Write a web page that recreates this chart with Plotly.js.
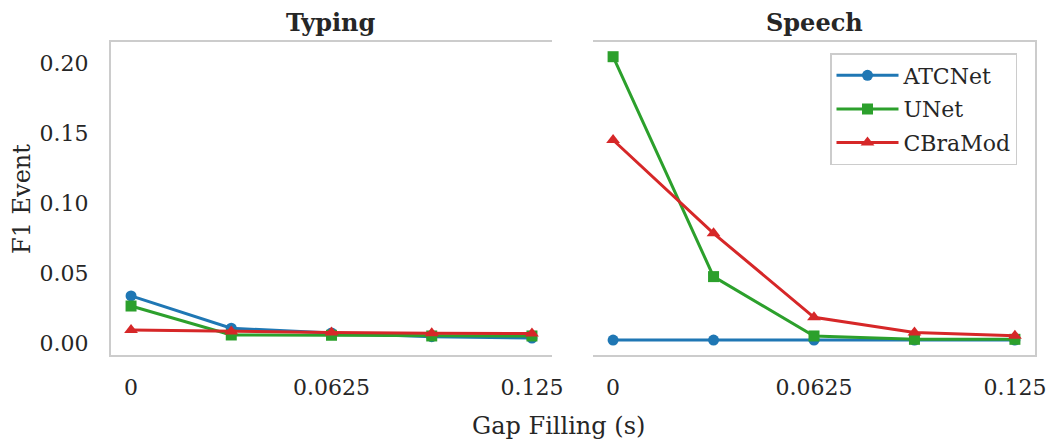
<!DOCTYPE html>
<html>
<head>
<meta charset="utf-8">
<script src="https://cdn.plot.ly/plotly-3.0.1.min.js"></script>
<style>html,body{margin:0;padding:0;background:#fff;}#chart{width:1047px;height:440px;}</style>
</head>
<body>
<div id="chart"></div>
<script>
const gaps = [0, 0.03125, 0.0625, 0.09375, 0.125];
const tickVals = [0, 0.0625, 0.125];
const tickText = ["0", "0.0625", "0.125"];
const yTickVals = [0, 0.05, 0.10, 0.15, 0.20];
const yTickText = ["0.00", "0.05", "0.10", "0.15", "0.20"];
const panels = ["Typing", "Speech"];
const models = ["ATCNet", "UNet", "CBraMod"];
const colors = ["#1f77b4", "#2ca02c", "#d62728"];
const symbols = ["circle", "square", "triangle-up"];

const typingATCNet = [0.0336, 0.0105, 0.0072, 0.0045, 0.0035];
const typingUNet = [0.0264, 0.0057, 0.0055, 0.0050, 0.0050];
const typingCBraMod = [0.0093, 0.0081, 0.0074, 0.0069, 0.0067];

const speechATCNet = [0.0021, 0.0021, 0.0021, 0.0021, 0.0021];
const speechUNet = [0.2045, 0.0474, 0.0050, 0.0026, 0.0026];
const speechCBraMod = [0.1450, 0.0783, 0.0183, 0.0074, 0.0052];

const seriesByPanel = [
  [typingATCNet, typingUNet, typingCBraMod],
  [speechATCNet, speechUNet, speechCBraMod]
];

const font = "DejaVu Serif, serif";
const traces = [];
seriesByPanel.forEach((set, p) => {
  set.forEach((vals, i) => {
    traces.push({
      x: gaps, y: vals, type: "scatter", mode: "lines+markers",
      name: models[i], showlegend: p === 1, legendgroup: models[i],
      xaxis: p === 0 ? "x" : "x2", yaxis: p === 0 ? "y" : "y2",
      line: {color: colors[i], width: 3},
      marker: {color: colors[i], symbol: symbols[i], size: i === 2 ? 12 : 11}
    });
  });
});

const W = 1047, H = 440;
const yDom = [1 - 355 / H, 1 - 42 / H];
const xr = [-0.00625, 0.13125];
const yr = [-0.0086, 0.215];
const axX = {
  range: xr, showgrid: false, zeroline: false, showline: true, mirror: true,
  linecolor: "#cccccc", linewidth: 2, ticks: "outside", ticklen: 12,
  tickcolor: "rgba(0,0,0,0)", tickvals: tickVals, ticktext: tickText,
  tickfont: {family: font, size: 22, color: "#262626"}
};
const ann = (text, x, y, size, angle) => ({
  text: text, xref: "paper", yref: "paper", x: x / W, y: 1 - y / H,
  xanchor: "center", yanchor: "middle", textangle: angle || 0,
  showarrow: false, font: {family: font, size: size, color: "#262626"}
});
const layout = {
  width: W, height: H, margin: {l: 0, r: 0, t: 0, b: 0},
  paper_bgcolor: "#ffffff", plot_bgcolor: "#ffffff",
  font: {family: font, color: "#262626"},
  xaxis: Object.assign({}, axX, {domain: [111 / W, 552 / W], anchor: "y"}),
  xaxis2: Object.assign({}, axX, {domain: [593 / W, 1035 / W], anchor: "y2"}),
  yaxis: {
    domain: yDom, range: yr, anchor: "x", showgrid: false, zeroline: false,
    showline: true, linecolor: "#cccccc", linewidth: 2, ticks: "outside",
    ticklen: 16, tickcolor: "rgba(0,0,0,0)", tickvals: yTickVals, ticktext: yTickText,
    tickfont: {family: font, size: 22, color: "#262626"}
  },
  yaxis2: {
    domain: yDom, range: yr, anchor: "x2", matches: "y", side: "right",
    showgrid: false, zeroline: false, showline: true, linecolor: "#cccccc",
    linewidth: 2, showticklabels: false, ticks: ""
  },
  legend: {
    x: 830 / W, y: 1 - 53 / H, xanchor: "left", yanchor: "top",
    bordercolor: "#cccccc", borderwidth: 1.5, bgcolor: "#ffffff", itemwidth: 62,
    font: {family: font, size: 22, color: "#262626"}, tracegroupgap: 2
  },
  annotations: [
    ann("<b>" + panels[0] + "</b>", 331, 22, 24),
    ann("<b>" + panels[1] + "</b>", 814, 22, 24),
    ann("Gap Filling (s)", 558, 426, 24),
    ann("F1 Event", 22, 199, 24, -90)
  ]
};
Plotly.newPlot("chart", traces, layout, {displayModeBar: false, staticPlot: true});
</script>
</body>
</html>
